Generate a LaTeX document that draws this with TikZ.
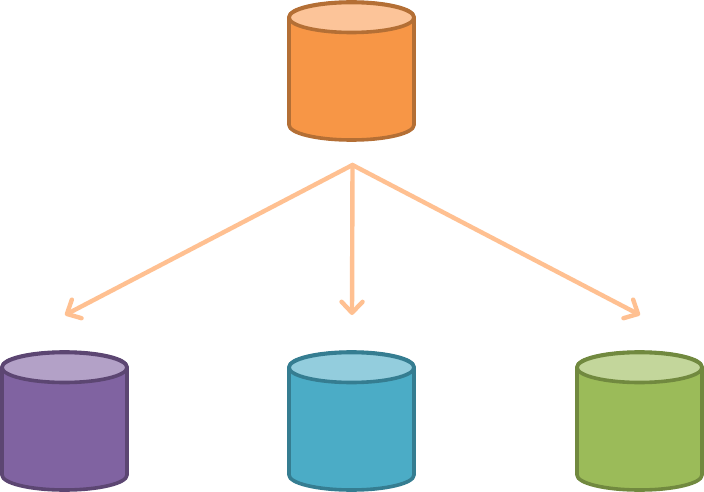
\documentclass[tikz,border=0pt]{standalone}
\usetikzlibrary{arrows.meta}
\definecolor{orangefill}{HTML}{F79646}
\definecolor{orangeline}{HTML}{B46F35}
\definecolor{orangetop}{HTML}{FCC499}
\definecolor{purplefill}{HTML}{8063A1}
\definecolor{purpleline}{HTML}{5C4672}
\definecolor{purpletop}{HTML}{B3A1C7}
\definecolor{bluefill}{HTML}{4BACC6}
\definecolor{blueline}{HTML}{357D91}
\definecolor{bluetop}{HTML}{93CDDD}
\definecolor{greenfill}{HTML}{9BBB59}
\definecolor{greenline}{HTML}{71893F}
\definecolor{greentop}{HTML}{C3D69B}
\definecolor{flowline}{HTML}{FFC091}
\tikzset{
  flow/.style={draw=flowline, line width=4.4pt, line cap=round, -{Straight Barb[length=11pt,width=21pt,line width=4.4pt,round]}},
  cyl/.style={line width=3.6pt, line join=round},
}
\newcommand{\dbcyl}[3]{% x of centre, y of top edge, colour name
  \draw [cyl, draw=#3line, fill=#3fill]
    (#1-62.5, #2+15) -- (#1-62.5, #2+123)
    arc [x radius=62.5, y radius=15, start angle=180, end angle=0]
    -- (#1+62.5, #2+15)
    arc [x radius=62.5, y radius=15, start angle=0, end angle=-180] -- cycle;
  \draw [cyl, draw=#3line, fill=#3top] (#1, #2+15.5) ellipse [x radius=62.5, y radius=15];
}
\begin{document}
\begin{tikzpicture}[x=1pt, y=-1pt]
\useasboundingbox (0,0) rectangle (704,492);
\dbcyl{351.5}{2}{orange}
\dbcyl{64.5}{352}{purple}
\dbcyl{351.5}{352}{blue}
\dbcyl{639.5}{352}{green}
\coordinate (src) at (352.5,165);
\coordinate (dstpurple) at (65,315);
\coordinate (dstblue) at (352,315);
\coordinate (dstgreen) at (640,315);
\draw [flow] (src) -- (dstpurple);
\draw [flow] (src) -- (dstblue);
\draw [flow] (src) -- (dstgreen);
\end{tikzpicture}
\end{document}
